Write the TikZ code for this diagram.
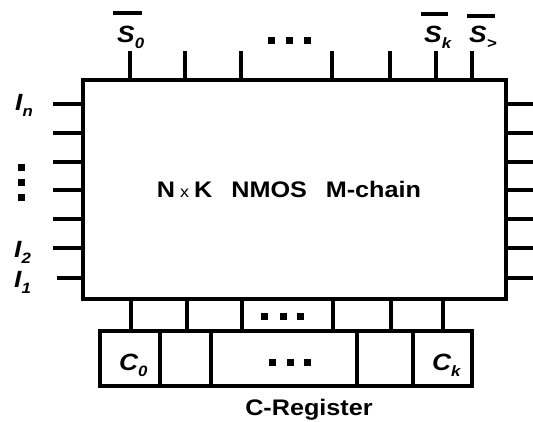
\documentclass[tikz,border=0pt]{standalone}
\usepackage{fontspec}
\usepackage{graphicx}
\setmainfont{Liberation Sans}
\newcommand\sbs[1]{\raisebox{-0.27em}{\fontsize{15}{15}\selectfont #1}}
\newcommand\wide[1]{\scalebox{1.12}[1]{#1}}
\begin{document}
\begin{tikzpicture}[x=1pt,y=-1pt,
  box/.style={line width=4.5pt, line join=miter},
  pin/.style={line width=3.5pt},
  bar/.style={line width=4pt},
  dotsq/.style={fill=black, minimum size=7pt, inner sep=0pt, draw=none, rectangle},
  lbl/.style={inner sep=0pt, anchor=base west, font=\fontsize{23.5}{23.5}\selectfont\bfseries\itshape},
  txt/.style={inner sep=0pt, anchor=base, font=\fontsize{22.5}{22.5}\selectfont\bfseries}]
\useasboundingbox (0,0) rectangle (533,421);

% main block
\coordinate (bnw) at (83,80);
\coordinate (bse) at (506,299);
\draw[box] (bnw) rectangle (bse);
\node[txt] (title) at (289,197) {\wide{N\hspace{0.2em}{\fontsize{16}{16}\selectfont\mdseries x}\hspace{0.2em}K\hspace{0.75em}NMOS\hspace{0.75em}M-chain}};

% top pins
\foreach \x in {130,185,241,332,390,436,472}
  \draw[pin] (\x,51) -- (\x,80);
\foreach \x in {271,289,307}
  \node[dotsq] at (\x,40) {};

% left / right pins
\foreach \y in {104,133,162,190,219,248}
  \draw[pin] (53,\y) -- (83,\y);
\draw[pin] (57,278) -- (83,278);
\foreach \y in {104,133,162,190,219,248,278}
  \draw[pin] (506,\y) -- (533,\y);
\foreach \y in {167,182,197}
  \node[dotsq] at (21,\y) {};

% bottom pins
\foreach \x in {131,187,242,333,391,443}
  \draw[pin] (\x,299) -- (\x,331);
\foreach \x in {264,283,300}
  \node[dotsq] at (\x,316) {};

% C-register
\draw[box] (100,331) rectangle (472,386);
\foreach \x in {160,211,357,413}
  \draw[box] (\x,331) -- (\x,386);
\foreach \x in {272,290,307}
  \node[dotsq] at (\x,362) {};
\node[txt] (creg) at (309,415) {\wide{C-Register}};

% labels
\node[lbl] (s0) at (117,42) {\wide{S\sbs{0}}};
\node[lbl] (sk) at (424,42) {\wide{S\sbs{k}}};
\node[lbl] (sg) at (469,42) {\wide{S\sbs{>}}};
\draw[bar] (113,13) -- (142,13);
\draw[bar] (421,14) -- (448,14);
\draw[bar] (467,16) -- (495,16);

\node[lbl] (in) at (15,110) {\wide{I\sbs{n}}};
\node[lbl] (i2) at (14,257) {\wide{I\sbs{2}}};
\node[lbl] (i1) at (14,287) {\wide{I\sbs{1}}};

\node[lbl] (c0) at (119,370) {\wide{C\sbs{0}}};
\node[lbl] (ck) at (432,370) {\wide{C\sbs{k}}};
\end{tikzpicture}
\end{document}
